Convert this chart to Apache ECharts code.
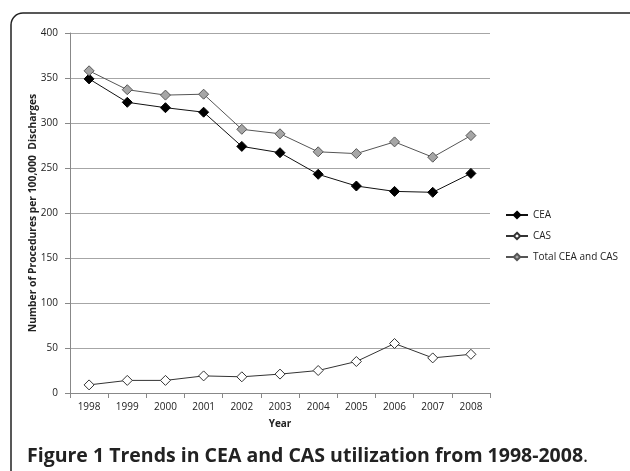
<!DOCTYPE html>
<html><head><meta charset="utf-8">
<script src="https://cdn.jsdelivr.net/npm/echarts@6/dist/echarts.min.js"></script>
<style>html,body{margin:0;padding:0;background:#fff}#c{width:630px;height:471px}</style>
</head><body><div id="c"></div>
<script>
const years = ['1998','1999','2000','2001','2002','2003','2004','2005','2006','2007','2008'];
const cea = [349, 323, 317, 312, 274, 267, 243, 230, 224, 223, 244];
const cas = [9, 14, 14, 19, 18, 21, 25, 35, 55, 39, 43];
const total = [358, 337, 331, 332, 293, 288, 268, 266, 279, 262, 286];
const yTicks = [0, 50, 100, 150, 200, 250, 300, 350, 400];

const chart = echarts.init(document.getElementById('c'), null, {renderer:'canvas'});
const f = '"Open Sans", "Liberation Sans", sans-serif';
function ser(name, data, fill, border, lineColor) {
  return {
    name, type:'line', data, symbol:'diamond', symbolSize:10,
    lineStyle:{color:lineColor, width:1},
    itemStyle:{color:fill, borderColor:border, borderWidth:1},
    emphasis:{disabled:true}, animation:false
  };
}
chart.setOption({
  animation:false,
  textStyle:{fontFamily:f},
  graphic:[{type:'rect', shape:{x:11, y:13, width:640, height:480, r:12},
    style:{fill:'none', stroke:'#222', lineWidth:1.5}, silent:true}],
  title:{
    left:22, top:441,
    text:'{b|Figure 1 Trends in CEA and CAS utilization from 1998-2008}{n|.}',
    textStyle:{rich:{
      b:{fontFamily:f, fontSize:19.5, fontWeight:'bold', color:'#222'},
      n:{fontFamily:f, fontSize:19.5, fontWeight:'normal', color:'#222'}
    }}
  },
  legend:{
    orient:'vertical', left:500, top:205, itemGap:11, itemWidth:22, itemHeight:8,
    textStyle:{fontFamily:f, fontSize:10, color:'#222'},
    data:['CEA','CAS','Total CEA and CAS']
  },
  grid:{left:70, right:140, top:33, bottom:78},
  xAxis:{
    type:'category', data:years, boundaryGap:true,
    name:'Year', nameLocation:'middle', nameGap:26,
    nameTextStyle:{fontFamily:f, fontSize:10, fontWeight:'bold', color:'#222'},
    axisLine:{lineStyle:{color:'#888'}},
    axisTick:{show:true, length:5, lineStyle:{color:'#888'}},
    axisLabel:{fontFamily:f, fontSize:10, color:'#222', margin:9}
  },
  yAxis:{
    type:'value', min:0, max:400, interval:50,
    name:'Number of Procedures per 100,000  Discharges', nameLocation:'middle', nameGap:32,
    nameMoveOverlap:false,
    nameTextStyle:{fontFamily:f, fontSize:10.3, fontWeight:'bold', color:'#222'},
    axisLine:{show:true, lineStyle:{color:'#888'}},
    axisTick:{show:true, length:5, inside:false, lineStyle:{color:'#888'}},
    axisLabel:{fontFamily:f, fontSize:10, color:'#222', margin:12,
      formatter:(v)=> yTicks.includes(v) ? String(v) : ''},
    splitLine:{lineStyle:{color:'#a6a6a6', width:1}}
  },
  series:[
    ser('CEA', cea, '#000', '#000', '#111'),
    ser('CAS', cas, '#fff', '#333', '#333'),
    ser('Total CEA and CAS', total, '#a6a6a6', '#555', '#555')
  ]
});
</script></body></html>
